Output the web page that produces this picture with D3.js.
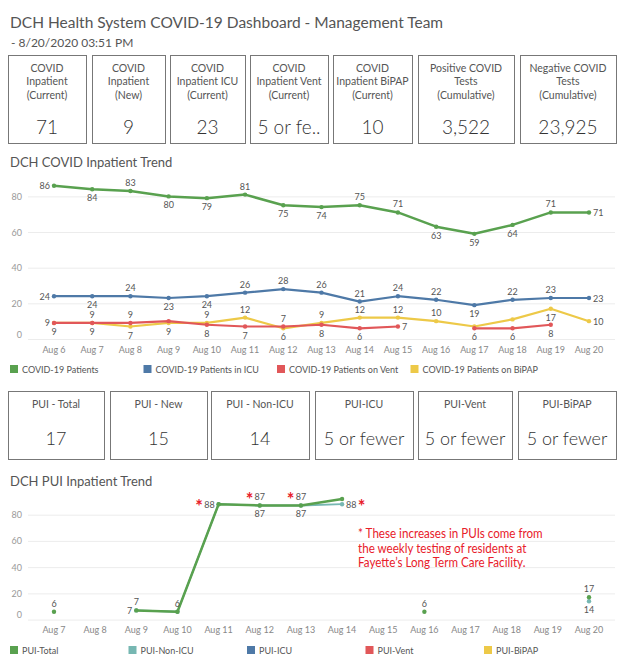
<!DOCTYPE html>
<html>
<head>
<meta charset="utf-8">
<script src="https://cdn.jsdelivr.net/npm/d3@7"></script>
<style>
  body { margin: 0; background: #fff; }
  svg text { font-family: Lato, 'Open Sans', sans-serif; }
</style>
</head>
<body>
<svg id="dash" width="624" height="662"></svg>
<script>
// ---- data ----
var kpiTitles = [
  ['COVID', 'Inpatient', '(Current)'],
  ['COVID', 'Inpatient', '(New)'],
  ['COVID', 'Inpatient ICU', '(Current)'],
  ['COVID', 'Inpatient Vent', '(Current)'],
  ['COVID', 'Inpatient BiPAP', '(Current)'],
  ['Positive COVID', 'Tests', '(Cumulative)'],
  ['Negative COVID', 'Tests', '(Cumulative)']
];
var kpiValues = ['71', '9', '23', '5 or fewer', '10', '3,522', '23,925'];

var puiTitles = ['PUI - Total', 'PUI - New', 'PUI - Non-ICU', 'PUI-ICU', 'PUI-Vent', 'PUI-BiPAP'];
var puiValues = ['17', '15', '14', '5 or fewer', '5 or fewer', '5 or fewer'];

var trendDays = ['Aug 6', 'Aug 7', 'Aug 8', 'Aug 9', 'Aug 10', 'Aug 11', 'Aug 12', 'Aug 13',
  'Aug 14', 'Aug 15', 'Aug 16', 'Aug 17', 'Aug 18', 'Aug 19', 'Aug 20'];
var covidPatients = [86, 84, 83, 80, 79, 81, 75, 74, 75, 71, 63, 59, 64, 71, 71];
var covidIcu      = [24, 24, 24, 23, 24, 26, 28, 26, 21, 24, 22, 19, 22, 23, 23];
var covidVent     = [9, 9, 9, 10, 8, 7, 7, 8, 6, 7, null, 6, 6, 8, null];
var covidBipap    = [9, 9, 7, 9, 9, 12, 6, 9, 12, 12, 10, 7, 11, 17, 10];

var puiDays = ['Aug 7', 'Aug 8', 'Aug 9', 'Aug 10', 'Aug 11', 'Aug 12', 'Aug 13',
  'Aug 14', 'Aug 15', 'Aug 16', 'Aug 17', 'Aug 18', 'Aug 19', 'Aug 20'];
var puiTotal  = [6, null, 7, 6, 88, 87, 87, 92, null, 6, null, null, null, 17];
var puiNonIcu = [null, null, 7, 6, 88, 87, 87, 88, null, null, null, null, null, 14];
var puiIcu = [], puiVent = [], puiBipap = [];   // nothing plotted for these

var yTicks = [0, 20, 40, 60, 80];
var puiNoteDays = ['Aug 11', 'Aug 12', 'Aug 13', 'Aug 14'];
var noteLines = ['* These increases in PUIs come from',
  'the weekly testing of residents at',
  'Fayette\u2019s Long Term Care Facility.'];

var colors = {green: '#59a14f', blue: '#4e79a7', red: '#e15759', yellow: '#edc948', teal: '#76b7b2'};

var svg = d3.select('#dash');
var measurer = svg.append('text').attr('font-size', 9).attr('visibility', 'hidden');
function textWidth(str, size, family) {
  measurer.attr('font-size', size).attr('font-family', family || null).text(str);
  return measurer.node().getComputedTextLength();
}

// ---- header ----
svg.append('text').attr('x', 10).attr('y', 22).attr('dominant-baseline', 'central')
  .attr('font-size', 15.5).attr('fill', '#555')
  .text('DCH Health System COVID-19 Dashboard - Management Team');
svg.append('text').attr('x', 11).attr('y', 42).attr('dominant-baseline', 'central')
  .attr('font-size', 12).attr('fill', '#555')
  .text('- 8/20/2020 03:51 PM');

// ---- KPI boxes ----
function kpiRow(titles, values, edges, top, height, titleY, valueY, valueSize) {
  var row = svg.append('g');
  titles.forEach(function(t, i) {
    var x0 = edges[i][0], w = edges[i][1] - edges[i][0];
    var cx = x0 + w / 2;
    row.append('rect').attr('x', x0 + 0.5).attr('y', top + 0.5).attr('width', w).attr('height', height)
      .attr('fill', '#fff').attr('stroke', '#777');
    var lines = Array.isArray(t) ? t : [t];
    lines.forEach(function(l, j) {
      row.append('text').attr('x', cx).attr('y', titleY + j * 13.4)
        .attr('text-anchor', 'middle').attr('dominant-baseline', 'central')
        .attr('font-size', 10.5).attr('fill', '#555').text(l);
    });
    // tableau cuts long values with ".."
    var v = values[i];
    if (textWidth(v, valueSize) > w - 6) {
      var cut = v;
      while (cut.length > 1 && textWidth(cut + '..', valueSize) > w - 12) cut = cut.slice(0, -1);
      v = cut + '..';
    }
    row.append('text').attr('x', cx).attr('y', valueY)
      .attr('text-anchor', 'middle').attr('dominant-baseline', 'central')
      .attr('font-size', valueSize).attr('font-weight', 300).attr('fill', '#333').text(v);
  });
}
kpiRow(kpiTitles, kpiValues,
  [[8, 86], [92, 165], [170, 245], [250, 328], [333, 412], [418, 514], [520, 616]],
  55, 88, 68, 126, 19);
kpiRow(puiTitles, puiValues,
  [[8, 104], [110, 207], [211, 309], [315, 413], [418, 512], [518, 616]],
  391, 68, 404, 438, 18);

// ---- line charts ----
function trendChart(opt) {
  var g = svg.append('g');
  var x = d3.scalePoint().domain(opt.days).range([54, 589]);
  var y = d3.scaleLinear().domain([0, opt.yMax]).range([opt.y0, opt.yTop]);
  var series = opt.series;

  g.append('text').attr('x', 10).attr('y', opt.titleY).attr('dominant-baseline', 'central')
    .attr('font-size', 13).attr('fill', '#555').text(opt.title);

  g.selectAll('line.grid').data(yTicks).enter().append('line')
    .attr('x1', 28).attr('x2', 615)
    .attr('y1', function(d) { return y(d) + 0.5; })
    .attr('y2', function(d) { return y(d) + 0.5; })
    .attr('stroke', '#ececec');
  g.selectAll('text.ytick').data(yTicks).enter().append('text')
    .attr('x', 22).attr('y', function(d) { return y(d) - (d === 0 ? 5 : 0); })
    .attr('text-anchor', 'end').attr('dominant-baseline', 'central')
    .attr('font-size', 9).attr('fill', '#999').text(function(d) { return d; });
  g.selectAll('text.xtick').data(opt.days).enter().append('text')
    .attr('x', function(d) { return x(d); }).attr('y', opt.xLabelY)
    .attr('text-anchor', 'middle').attr('dominant-baseline', 'central')
    .attr('font-size', 9).attr('fill', '#888').text(function(d) { return d; });

  var line = d3.line()
    .defined(function(d) { return d != null; })
    .x(function(d, i) { return x(opt.days[i]); })
    .y(function(d) { return y(d); });

  // first series in the legend ends up on top
  var drawn = series.filter(function(s) { return s.values.some(function(v) { return v != null; }); });
  drawn.slice().reverse().forEach(function(s) {
    g.append('path').datum(opt.days.map(function(d, i) { return s.values[i]; }))
      .attr('d', line).attr('fill', 'none').attr('stroke', s.color)
      .attr('stroke-width', s.width).attr('stroke-linejoin', 'round');
    opt.days.forEach(function(d, i) {
      if (s.values[i] == null) return;
      g.append('circle').attr('cx', x(d)).attr('cy', y(s.values[i])).attr('r', 2.2).attr('fill', s.color);
    });
  });

  // ---- mark labels with simple overlap avoidance ----
  var placed = [];
  var paneBottom = y(0) + 4;
  var zIndex = {};
  drawn.forEach(function(s, k) { zIndex[s.name] = drawn.length - k; });

  function shapeSide(vals, i) {
    var p = vals[i - 1], n = vals[i + 1], v = vals[i];
    if (p == null && n == null) return 'above';
    if (p == null) p = n;
    if (n == null) n = p;
    var d = v - (p + n) / 2;
    if (d > 0) return 'above';
    if (d < 0) return 'below';
    return n > p ? 'above' : 'below';
  }
  function nearSide(si, i) {
    var v = drawn[si].values[i], nearAbove = false, nearBelow = false;
    drawn.forEach(function(o, oi) {
      var ov = o.values[i];
      if (oi === si || ov == null) return;
      if (Math.abs(y(ov) - y(v)) >= 20) return;
      if (ov > v || (ov === v && oi < si)) nearAbove = true; else nearBelow = true;
    });
    if (nearAbove && !nearBelow) return 'below';
    if (nearBelow && !nearAbove) return 'above';
    return shapeSide(drawn[si].values, i);
  }
  function boxFor(side, px, py, w) {
    var cx = px, cy = py;
    if (side === 'above') cy = py - 8.5;
    if (side === 'below') cy = py + 8.5;
    if (side === 'left') cx = px - 4 - w / 2;
    if (side === 'right') cx = px + 4 + w / 2;
    return {x0: cx - w / 2, x1: cx + w / 2, y0: cy - 4.5, y1: cy + 4.5, cx: cx, cy: cy, side: side};
  }
  function collision(b, s) {
    if (b.y1 > paneBottom) return 'pane';
    for (var k = 0; k < placed.length; k++) {
      var o = placed[k];
      if (b.x0 < o.x1 + 0.5 && b.x1 > o.x0 - 0.5 && b.y0 < o.y1 + 0.5 && b.y1 > o.y0 - 0.5) return 'label';
    }
    // lines drawn on top of this series
    for (var m = 0; m < drawn.length; m++) {
      var t = drawn[m];
      if (zIndex[t.name] <= zIndex[s.name]) continue;
      for (var i = 0; i < opt.days.length - 1; i++) {
        var a = t.values[i], c = t.values[i + 1];
        if (a == null || c == null) continue;
        var xa = x(opt.days[i]), ya = y(a), xc = x(opt.days[i + 1]), yc = y(c);
        var steps = Math.ceil(Math.hypot(xc - xa, yc - ya));
        for (var q = 0; q <= steps; q++) {
          var sx = xa + (xc - xa) * q / steps, sy = ya + (yc - ya) * q / steps;
          if (sx > b.x0 - 1 && sx < b.x1 + 1 && sy > b.y0 - 1 && sy < b.y1 + 1) return 'line';
        }
      }
    }
    return 'none';
  }

  opt.labelOrder.forEach(function(name) {
    var si = drawn.findIndex(function(s) { return s.name === name; });
    var s = drawn[si], vals = s.values;
    var firstIdx = vals.findIndex(function(v) { return v != null; });
    opt.days.forEach(function(d, i) {
      var v = vals[i];
      if (v == null) return;
      var prev = vals[i - 1], next = vals[i + 1];
      var later = vals.slice(i + 1).some(function(u) { return u != null; });
      var px = x(d), py = y(v), txt = String(v), w = textWidth(txt, 9);
      var side = nearSide(si, i);
      var cands, strict = false;
      if (i === firstIdx && next != null) {
        cands = ['left', side];
      } else if (prev != null && (i === opt.days.length - 1 || (next == null && later))) {
        cands = ['right'];
      } else if (prev != null && y(prev) - py > 50) {
        // steep climb: the top line labels beside the point, others give way
        cands = side === 'above' ? ['left', 'right'] : [side];
      } else {
        cands = [side, side === 'above' ? 'below' : 'above'];
        strict = true;
      }
      for (var k = 0; k < cands.length; k++) {
        var b = boxFor(cands[k], px, py, w);
        var hit = collision(b, s);
        if (hit === 'none') {
          b.text = txt; b.day = d; b.series = s.name;
          placed.push(b);
          break;
        }
        if (hit === 'pane' || (strict && hit === 'label')) break;
      }
    });
  });
  g.selectAll('text.mark').data(placed).enter().append('text')
    .attr('x', function(b) { return b.cx; }).attr('y', function(b) { return b.cy; })
    .attr('text-anchor', 'middle').attr('dominant-baseline', 'central')
    .attr('font-size', 9).attr('fill', '#555').text(function(b) { return b.text; });

  // legend
  series.forEach(function(s, i) {
    var lx = 10 + i * opt.legendStep;
    g.append('rect').attr('x', lx).attr('y', opt.legendY - 4).attr('width', 8).attr('height', 8).attr('fill', s.color);
    g.append('text').attr('x', lx + 12).attr('y', opt.legendY).attr('dominant-baseline', 'central')
      .attr('font-size', 9).attr('fill', '#555').text(s.name);
  });

  return {g: g, x: x, y: y, placed: placed};
}

trendChart({
  title: 'DCH COVID Inpatient Trend', titleY: 162,
  days: trendDays, yMax: 92, y0: 339, yTop: 175, xLabelY: 349,
  legendY: 369, legendStep: 133.5,
  series: [
    {name: 'COVID-19 Patients', values: covidPatients, color: colors.green, width: 2.5},
    {name: 'COVID-19 Patients in ICU', values: covidIcu, color: colors.blue, width: 2.2},
    {name: 'COVID-19 Patients on Vent', values: covidVent, color: colors.red, width: 2.2},
    {name: 'COVID-19 Patients on BiPAP', values: covidBipap, color: colors.yellow, width: 2.2}
  ],
  labelOrder: ['COVID-19 Patients', 'COVID-19 Patients in ICU', 'COVID-19 Patients on Vent', 'COVID-19 Patients on BiPAP']
});

var pui = trendChart({
  title: 'DCH PUI Inpatient Trend', titleY: 481,
  days: puiDays, yMax: 95, y0: 619.6, yTop: 495, xLabelY: 629,
  legendY: 650, legendStep: 118.5,
  series: [
    {name: 'PUI-Total', values: puiTotal, color: colors.green, width: 2.5},
    {name: 'PUI-Non-ICU', values: puiNonIcu, color: colors.teal, width: 1.8},
    {name: 'PUI-ICU', values: puiIcu, color: colors.blue, width: 2},
    {name: 'PUI-Vent', values: puiVent, color: colors.red, width: 2},
    {name: 'PUI-BiPAP', values: puiBipap, color: colors.yellow, width: 2}
  ],
  labelOrder: ['PUI-Non-ICU', 'PUI-Total']
});

// red asterisks next to the nursing-home jump labels
puiNoteDays.forEach(function(day) {
  var lab = pui.placed.filter(function(b) { return b.day === day; })
    .sort(function(a, b) { return a.cy - b.cy; })[0];
  if (!lab) return;
  var ax = lab.side === 'right' ? lab.x1 + 5 : lab.x0 - 5;
  pui.g.append('text').attr('x', ax).attr('y', lab.cy + 9)
    .attr('text-anchor', 'middle').attr('font-size', 18).attr('font-weight', 'bold')
    .attr('fill', '#e8202a').text('*');
});
var noteFont = "'Liberation Sans Narrow', 'DejaVu Sans Condensed', sans-serif";
var noteX = pui.x('Aug 14') + 16;
pui.g.selectAll('text.note').data(noteLines).enter().append('text')
  .attr('x', noteX).attr('y', function(d, i) { return 533 + i * 14.5; })
  .attr('dominant-baseline', 'central')
  .attr('font-family', noteFont).attr('font-size', 13.5).attr('fill', '#e8202a')
  .attr('textLength', function(d) { return textWidth(d, 13.5, noteFont) * 0.86; })
  .attr('lengthAdjust', 'spacingAndGlyphs')
  .text(function(d) { return d; });
</script>
</body>
</html>
